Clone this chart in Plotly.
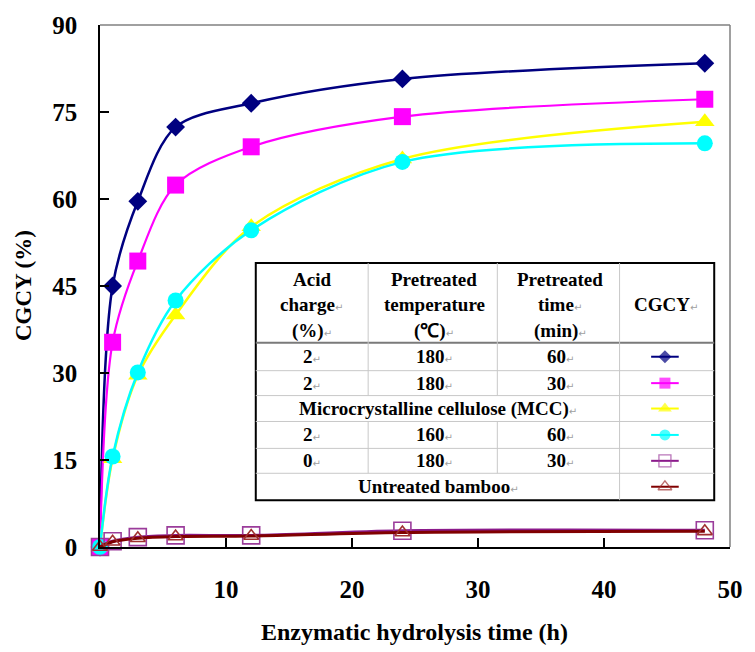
import plotly.graph_objects as go

# ---------------- data ----------------
time_h = [0, 1, 3, 6, 12, 24, 48]
cgcy_acid2_180_60 = [0, 45.0, 59.6, 72.4, 76.5, 80.7, 83.4]
cgcy_acid2_180_30 = [0, 35.3, 49.3, 62.4, 69.0, 74.2, 77.2]
cgcy_mcc = [0, 15.2, 29.6, 40.0, 55.2, 66.9, 73.3]
cgcy_acid2_160_60 = [0, 15.6, 30.1, 42.5, 54.6, 66.4, 69.6]
cgcy_acid0_180_30 = [0, 1.0, 1.7, 2.0, 2.0, 2.8, 2.9]
cgcy_untreated = [0, 0.9, 1.5, 1.8, 1.9, 2.5, 2.7]

x_ticks = [0, 10, 20, 30, 40, 50]
y_ticks = [0, 15, 30, 45, 60, 75, 90]

header_cols = [["Acid", "charge", "(%)"],
               ["Pretreated", "temperature", "(℃)"],
               ["Pretreated", "time", "(min)"],
               ["CGCY"]]
table_rows = [["2", "180", "60"],
              ["2", "180", "30"],
              ["Microcrystalline cellulose (MCC)"],
              ["2", "160", "60"],
              ["0", "180", "30"],
              ["Untreated bamboo"]]

# ---------------- styles ----------------
series = [
    dict(y=cgcy_acid2_180_60, color="#000080", symbol="diamond", size=14.5, lsize=10, lw=2.5, open=False),
    dict(y=cgcy_acid2_180_30, color="#FF00FF", symbol="square", size=17, lsize=11, lw=2.2, open=False),
    dict(y=cgcy_mcc, color="#FFFF00", symbol="triangle-up", size=17, lsize=12, lw=2.5, open=False),
    dict(y=cgcy_acid2_160_60, color="#00FFFF", symbol="circle", size=16, lsize=11, lw=2.5, open=False),
    dict(y=cgcy_acid0_180_30, color="#8B1A8B", symbol="square-open", size=17, lsize=12, lw=3, open=True, mcolor="#9B3C9B"),
    dict(y=cgcy_untreated, color="#800000", symbol="triangle-up-open", size=13, lsize=12, lw=3, open=True, mcolor="#A03030"),
]

W, H = 755, 652
L, R, T, B = 100, 16, 23, 105
PW, PH = W - L - R, H - T - B


def px(X):
    return (X - L) / PW


def py(Y):
    return (H - B - Y) / PH


FONT = "Liberation Serif, Times New Roman, serif"
PM = "<span style='font-size:10px;color:#a0a0a0;font-family:DejaVu Sans'>↵</span>"

fig = go.Figure()

for s in series:
    mcol = s.get("mcolor", s["color"])
    marker = dict(symbol=s["symbol"], size=s["size"], color=mcol)
    if s["open"]:
        marker["line"] = dict(color=mcol, width=1.6)
    else:
        marker["line"] = dict(width=0)
    fig.add_trace(go.Scatter(
        x=time_h, y=s["y"], mode="lines+markers",
        line=dict(color=s["color"], width=s["lw"], shape="spline", smoothing=0.9),
        marker=marker, cliponaxis=False, showlegend=False, hoverinfo="skip"))

# ---------------- table (legend) ----------------
tx0, tx1, ty0, ty1 = 258, 723, 262, 500
col_x = [372, 503, 627]
row_y = [342, 370, 395, 421, 448, 473, 500]
shapes = []
shapes.append(dict(type="rect", xref="paper", yref="paper", x0=px(tx0), x1=px(tx1),
                   y0=py(ty1), y1=py(ty0), fillcolor="white",
                   line=dict(color="black", width=2), layer="below"))
# header separator
shapes.append(dict(type="line", xref="paper", yref="paper", x0=px(tx0), x1=px(tx1),
                   y0=py(342), y1=py(342), line=dict(color="#7a7a7a", width=2), layer="below"))
for Y in row_y[1:-1]:
    shapes.append(dict(type="line", xref="paper", yref="paper", x0=px(tx0), x1=px(tx1),
                       y0=py(Y), y1=py(Y), line=dict(color="#c8c8c8", width=1), layer="below"))
for X in col_x[:2]:
    for (a, b) in [(ty0, 395), (421, 473)]:
        shapes.append(dict(type="line", xref="paper", yref="paper", x0=px(X), x1=px(X),
                           y0=py(a), y1=py(b), line=dict(color="#c8c8c8", width=1), layer="below"))
shapes.append(dict(type="line", xref="paper", yref="paper", x0=px(col_x[2]), x1=px(col_x[2]),
                   y0=py(ty0), y1=py(ty1), line=dict(color="#c8c8c8", width=1), layer="below"))
# gray top / right frame
shapes.append(dict(type="line", xref="paper", yref="paper", x0=0, x1=1, y0=1, y1=1,
                   line=dict(color="#808080", width=1.5)))
shapes.append(dict(type="line", xref="paper", yref="paper", x0=1, x1=1, y0=0, y1=1,
                   line=dict(color="#808080", width=1.5)))

annotations = []
col_cx = [315, 439, 567, 674]
header_y = [278, 304, 330]
hdr_marks = [[False, True, True], [False, False, True], [False, True, True], [True]]
for ci, lines in enumerate(header_cols):
    if len(lines) == 1:
        ys = [304]
    else:
        ys = header_y
    for li, txt in enumerate(lines):
        t = "<b>" + txt + "</b>" + (PM if hdr_marks[ci][li] else "")
        annotations.append(dict(xref="paper", yref="paper", x=px(col_cx[ci]), y=py(ys[li]),
                                text=t, showarrow=False, xanchor="center", yanchor="middle",
                                font=dict(family=FONT, size=19, color="black")))
row_cy = [356, 382.5, 408, 434.5, 460.5, 486.5]
for ri, row in enumerate(table_rows):
    if len(row) == 1:
        annotations.append(dict(xref="paper", yref="paper", x=px(443), y=py(row_cy[ri]),
                                text="<b>" + row[0] + "</b>" + PM, showarrow=False,
                                xanchor="center", yanchor="middle",
                                font=dict(family=FONT, size=19, color="black")))
    else:
        for ci, txt in enumerate(row):
            annotations.append(dict(xref="paper", yref="paper", x=px(col_cx[ci]), y=py(row_cy[ri]),
                                    text="<b>" + txt + "</b>" + PM, showarrow=False,
                                    xanchor="center", yanchor="middle",
                                    font=dict(family=FONT, size=19, color="black")))

# legend samples on an overlay axis in paper units
for ri, s in enumerate(series):
    mcol = s.get("mcolor", s["color"])
    yy = py(row_cy[ri])
    marker = dict(symbol=s["symbol"], size=[0, s["lsize"], 0], color=mcol)
    marker["line"] = dict(color=mcol, width=1.3) if s["open"] else dict(width=0)
    fig.add_trace(go.Scatter(
        x=[px(659), px(673), px(687)], y=[yy, yy, yy], mode="lines+markers",
        line=dict(color=s["color"], width=2), marker=marker,
        xaxis="x2", yaxis="y2", showlegend=False, hoverinfo="skip", cliponaxis=False))

# axis titles
annotations.append(dict(xref="paper", yref="paper", x=px(22), y=0.5, text="<b>CGCY (%)</b>",
                        textangle=-90, showarrow=False, xanchor="center", yanchor="middle",
                        font=dict(family=FONT, size=23, color="black")))
annotations.append(dict(xref="paper", yref="paper", x=px(419), y=py(632),
                        text="<b>Enzymatic hydrolysis time (h)</b>", showarrow=False,
                        xanchor="center", yanchor="middle",
                        font=dict(family=FONT, size=24, color="black")))

fig.update_layout(
    width=W, height=H,
    margin=dict(l=L, r=R, t=T, b=B, pad=0),
    paper_bgcolor="white", plot_bgcolor="white",
    showlegend=False,
    shapes=shapes, annotations=annotations,
    xaxis=dict(range=[0, 50], tickvals=x_ticks, ticktext=["<b>%d</b>" % v for v in x_ticks],
               showgrid=False, zeroline=False, showline=True, linecolor="black", linewidth=1.5,
               ticks="inside", ticklen=9, tickwidth=1.5, tickcolor="black",
               ticklabelstandoff=19,
               tickfont=dict(family=FONT, size=25, color="black")),
    yaxis=dict(range=[0, 90], tickvals=y_ticks, ticktext=["<b>%d</b>" % v for v in y_ticks],
               showgrid=False, zeroline=False, showline=True, linecolor="black", linewidth=1.5,
               ticks="inside", ticklen=9, tickwidth=1.5, tickcolor="black",
               ticklabelstandoff=16,
               tickfont=dict(family=FONT, size=25, color="black")),
    xaxis2=dict(range=[0, 1], overlaying="x", visible=False, fixedrange=True),
    yaxis2=dict(range=[0, 1], overlaying="y", visible=False, fixedrange=True),
)

fig.write_html("out.html", config={"displayModeBar": False},
               post_script="document.body.style.margin='0';document.body.style.overflow='hidden';")
